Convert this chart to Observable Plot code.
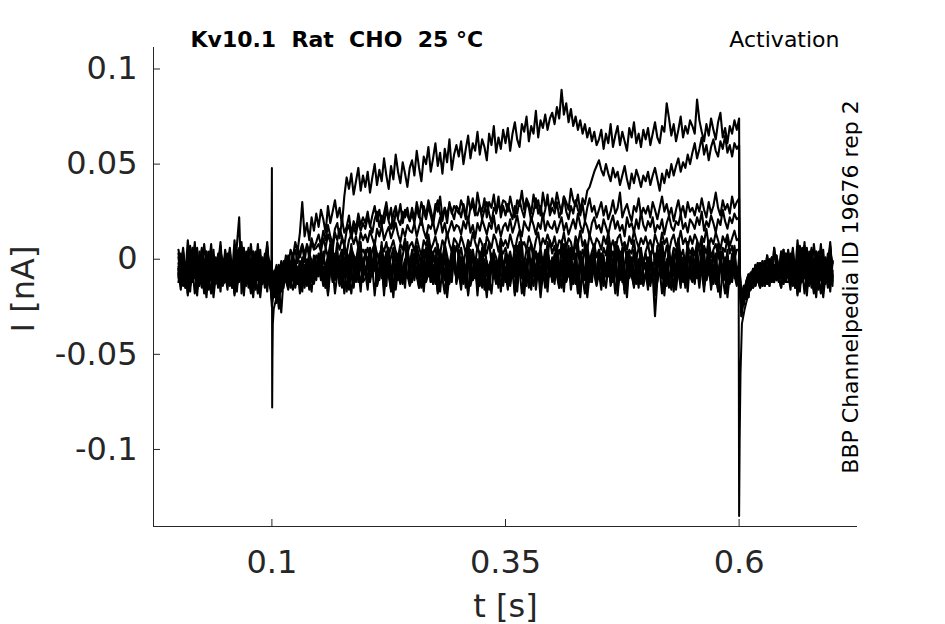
<!DOCTYPE html>
<html><head><meta charset="utf-8">
<script src="https://cdn.jsdelivr.net/npm/d3@7"></script>
<script src="https://cdn.jsdelivr.net/npm/@observablehq/plot@0.6"></script>
<style>html,body{margin:0;padding:0;background:#fff;overflow:hidden}svg{display:block}</style>
</head><body><div id="chart"></div>
<script>
// sample times (s)
const time = [
0,.0025,.005,.0075,.01,.0125,.015,.0175,.02,.0225,.025,.0275,.03,.0325,.035,.0375,.04,.0425,.045,.0475,
.05,.0525,.055,.0575,.06,.0625,.065,.0675,.07,.0725,.075,.0775,.08,.0825,.085,.0875,.09,.0925,.095,.0975,
.1,.1025,.105,.1075,.11,.1125,.115,.1175,.12,.1225,.125,.1275,.13,.1325,.135,.1375,.14,.1425,.145,.1475,
.15,.1525,.155,.1575,.16,.1625,.165,.1675,.17,.1725,.175,.1775,.18,.1825,.185,.1875,.19,.1925,.195,.1975,
.2,.2025,.205,.2075,.21,.2125,.215,.2175,.22,.2225,.225,.2275,.23,.2325,.235,.2375,.24,.2425,.245,.2475,
.25,.2525,.255,.2575,.26,.2625,.265,.2675,.27,.2725,.275,.2775,.28,.2825,.285,.2875,.29,.2925,.295,.2975,
.3,.3025,.305,.3075,.31,.3125,.315,.3175,.32,.3225,.325,.3275,.33,.3325,.335,.3375,.34,.3425,.345,.3475,
.35,.3525,.355,.3575,.36,.3625,.365,.3675,.37,.3725,.375,.3775,.38,.3825,.385,.3875,.39,.3925,.395,.3975,
.4,.4025,.405,.4075,.41,.4125,.415,.4175,.42,.4225,.425,.4275,.43,.4325,.435,.4375,.44,.4425,.445,.4475,
.45,.4525,.455,.4575,.46,.4625,.465,.4675,.47,.4725,.475,.4775,.48,.4825,.485,.4875,.49,.4925,.495,.4975,
.5,.5025,.505,.5075,.51,.5125,.515,.5175,.52,.5225,.525,.5275,.53,.5325,.535,.5375,.54,.5425,.545,.5475,
.55,.5525,.555,.5575,.56,.5625,.565,.5675,.57,.5725,.575,.5775,.58,.5825,.585,.5875,.59,.5925,.595,.5975,
.6,.6005,
.6025,.605,.6075,.61,.6125,.615,.6175,.62,.6225,.625,.6275,.63,.6325,.635,.6375,.64,.6425,.645,.6475,.65,
.6525,.655,.6575,.66,.6625,.665,.6675,.67,.6725,.675,.6775,.68,.6825,.685,.6875,.69,.6925,.695,.6975,.7];

const b1 = [-2,-11,4,-7,-15,-3,6,-9,-1,-13,2,-6,-17,-4,8,-8,-12,0,-5,-10];
const b2 = [-8,1,-12,-4,-19,-6,3,-10,-2,-14,5,-7,-1,-16,-5,2,-11,-3,9,-9];
const b3 = [3,-6,-14,-2,-9,7,-5,-18,-8,0,-12,-3,4,-10,-6,-15,1,-7,-13,-1];
const b3spike = [3,-6,-14,-2,-9,7,22,-18,-8,0,-12,-3,4,-10,-6,-15,1,-7,-13,-1];
const b4 = [-5,-13,0,-8,10,-4,-11,-1,-16,-6,3,-9,-20,-3,-7,5,-12,-2,-8,-14];
const b5 = [-10,-3,6,-7,-1,-14,-5,2,-12,-8,-2,-17,4,-6,-11,0,-9,-4,7,-13];
const b6 = [1,-9,-4,-15,-2,5,-11,-7,0,-13,-6,8,-3,-10,-18,-5,-1,-12,2,-8];
const b7 = [-7,-16,-2,-9,3,-12,-5,-1,-19,-4,6,-8,-14,-3,0,-10,-6,-15,4,-2];
const b8 = [-12,-4,1,-10,-6,-17,-2,7,-9,-3,-13,-7,0,-11,-5,-20,-8,3,-4,-9];
const b9 = [5,-3,-10,-6,2,-14,-8,-1,-12,4,-5,-16,-2,-9,1,-7,-13,-4,6,-11];
const b10 = [-9,-1,-13,-5,-18,-3,5,-10,-7,-2,-15,0,-8,-12,3,-6,-11,-4,-17,-1];
const b11 = [-4,-12,2,-8,-1,-11,-6,9,-14,-3,-9,-16,-2,4,-7,-13,-5,0,-10,-6];
const b11dip = [-4,-12,2,-8,-30,-11,-6,9,-14,-3,-9,-16,-2,4,-7,-13,-5,0,-10,-6];
const b12 = [-6,3,-9,-15,-4,-1,-12,-7,6,-11,-3,-18,-5,1,-9,-14,-2,-8,5,-12];
// just after the step onset (0.1-0.15 s)
const s1 = [-18,-12,-20,-9,-14,-6,-11,-16,-4,-10,-7,-13,-2,-9,-15,-5,-1,-11,-8,-3];
const s2 = [-22,-9,-15,-26,-8,-12,-4,-10,-14,-6,-1,-12,-8,-17,-3,-7,-11,0,-9,-5];
const s3 = [-14,-20,-8,-13,-17,-5,-10,-2,-15,-7,-12,-4,-9,1,-13,-6,-16,-3,-8,-11];
const s4 = [-25,-15,-11,-18,-6,-13,-9,-3,-12,-16,-5,-10,-1,-14,-7,-4,-11,-17,-2,-8];
const s5 = [-17,-10,-23,-12,-7,-15,-4,-11,-8,-2,-14,-6,-18,-3,-9,-12,0,-7,-13,-5];
const s6 = [-20,-13,-9,-16,-28,-10,-5,-12,-3,-9,-15,-7,-11,-1,-8,-14,-4,-10,2,-6];
// just after the step offset (0.6-0.65 s)
const p1 = [-26,-20,-17,-12,-15,-9,-12,-6,-10,-3,-8,-12,-4,1,-7,-11,-2,-9,-5,3];
const p2 = [-22,-15,-19,-10,-13,-6,-14,-8,-2,-11,-5,-13,0,-7,-10,-3,-8,4,-6,-12];
const p3 = [-30,-18,-14,-20,-9,-13,-5,-11,-15,-4,-9,2,-7,-12,-3,-10,-6,-1,-13,-4];
const p4 = [-19,-24,-12,-8,-16,-10,-3,-12,-7,-14,-1,-9,-5,-11,6,-4,-10,-15,-2,-7];
const p5 = [-24,-14,-21,-11,-7,-15,-9,-2,-13,-6,-10,-4,-14,0,-8,-3,-12,-7,5,-9];
const p6 = [-28,-20,-12,-17,-10,-5,-13,-8,-11,-1,-14,-6,-3,-9,-12,2,-5,-10,-7,-4];

// activating traces during the step (0.1-0.5975 s), pA
const step1 = [
-14,-8,-3,-10,-1,-6,2,-4,5,1,9,4,14,30,12,19,10,22,15,24,
17,26,21,14,28,19,25,31,22,27,18,33,43,37,45,34,41,48,36,44,
38,46,35,43,50,39,47,41,53,44,37,49,42,55,46,40,51,45,38,48,
52,44,57,48,41,54,50,59,46,53,61,49,56,45,58,51,63,47,55,60,
54,62,50,58,65,53,61,57,67,55,63,59,52,66,60,70,56,64,58,68,
61,69,57,66,72,63,59,71,67,75,62,70,66,78,64,73,69,76,68,74,
77,71,80,74,89,76,82,72,79,70,75,68,73,66,71,64,69,62,67,60,
63,68,58,66,61,71,59,65,70,60,67,62,57,69,64,72,61,66,59,68,
63,69,60,66,72,64,61,70,67,82,74,65,71,62,68,75,64,70,66,73,
70,66,84,73,67,62,71,65,74,68,63,72,77,64,69,61,70,66,73,68];
const step2 = [
-16,-9,-5,-12,-3,-7,0,-6,-2,3,-4,5,1,7,-1,8,4,11,6,9,
13,7,15,10,18,12,8,16,19,11,21,14,17,23,13,20,16,24,18,22,
19,25,17,23,28,20,26,18,24,30,21,27,16,25,22,29,19,26,23,20,
27,21,30,24,18,28,23,31,26,20,29,25,33,22,27,19,30,24,28,26,
24,31,27,21,33,26,29,23,35,28,25,32,22,30,27,34,24,29,26,31,
30,25,33,27,22,31,28,36,26,32,29,24,34,27,31,23,35,28,30,26,
32,27,35,29,24,33,30,26,37,31,28,34,25,32,29,36,38,42,46,49,
52,47,44,50,45,41,48,43,46,39,44,49,42,37,45,40,47,43,38,44,
41,46,39,44,48,42,36,45,40,47,43,50,44,49,53,46,51,48,55,50,
56,61,53,58,64,55,60,52,59,63,57,54,62,58,65,56,60,54,61,58];
const step3 = [
-12,-6,-10,-3,-8,-1,-5,2,-4,1,5,-2,4,8,3,7,1,9,5,6,
8,4,11,6,13,9,5,14,10,16,12,7,15,18,11,17,13,20,15,19,
16,22,18,14,21,25,17,23,19,26,20,16,24,28,21,18,25,22,27,20,
24,19,27,22,30,25,21,28,23,18,26,31,24,20,27,23,29,25,21,28,
26,22,29,24,20,27,32,25,23,28,21,26,30,24,19,27,25,33,22,28,
23,29,25,21,28,24,31,26,22,30,27,20,25,32,24,28,21,26,34,23,
27,24,30,22,26,33,25,21,28,24,31,26,23,29,20,27,32,25,28,22,
26,30,23,28,21,25,31,24,27,35,22,26,29,24,20,28,25,32,23,27,
24,28,22,30,26,21,27,33,25,29,23,27,20,26,31,24,28,22,30,25,
27,23,29,25,32,26,22,30,24,28,35,27,23,31,26,29,24,33,27,30];
const step4 = [
-9,-14,-6,-11,-3,-8,-12,-4,-7,0,-5,-9,-2,-6,1,-4,3,-1,-5,2,
0,4,-2,6,1,8,3,-1,9,5,11,7,3,10,13,8,12,6,14,10,
13,9,15,11,7,16,12,18,10,14,17,11,15,19,13,9,16,12,18,15,
14,19,12,17,21,15,11,18,16,20,13,17,22,14,19,12,16,20,15,18,
17,13,20,16,22,14,18,11,19,15,21,17,13,19,16,23,14,18,12,17,
19,15,21,14,18,23,16,12,20,17,15,22,18,13,19,16,24,15,20,17,
16,20,14,18,22,15,19,13,17,21,16,24,18,14,20,17,12,19,22,16,
18,14,21,17,13,19,23,16,20,15,18,12,22,17,19,14,21,16,25,18,
15,20,17,22,14,18,16,21,13,19,23,17,15,20,18,24,16,19,14,21,
19,16,22,18,25,15,20,17,23,19,14,21,18,26,20,16,22,19,24,21];
const step5 = [
-17,-8,-13,-5,-10,-2,-7,-12,-4,-9,-1,-6,-11,-3,-8,0,-5,-10,-2,-6,
-3,-7,0,-4,2,-5,-1,3,-3,1,5,-2,4,0,6,2,-1,7,3,5,
2,6,-1,5,8,3,0,7,4,9,2,6,10,4,1,8,5,11,3,7,
9,4,11,6,2,10,7,13,5,8,12,6,3,10,7,14,8,4,11,9,
6,12,8,3,10,7,14,9,5,11,8,2,12,9,6,13,10,4,11,7,
10,6,13,8,4,11,15,7,9,5,12,8,3,10,14,6,11,8,13,9,
7,12,5,10,8,14,6,11,9,3,12,8,15,7,10,5,13,9,6,11,
9,5,12,8,14,6,10,4,11,13,7,9,5,12,8,15,10,6,11,8,
12,7,10,5,13,9,6,14,8,11,4,10,13,7,9,15,8,11,6,12,
8,13,10,6,12,9,16,7,11,8,14,10,5,12,9,13,7,11,15,10];
const step6 = [
-20,-11,-16,-7,-13,-4,-9,-15,-6,-11,-2,-8,-13,-5,-10,-1,-7,-12,-4,-9,
-6,-1,-9,-3,-7,0,-5,-11,-2,-6,1,-4,-8,-1,3,-5,-2,4,-3,0,
2,-3,5,-1,-6,3,0,7,-2,4,-4,1,6,-1,3,-5,2,8,0,-2,
4,-1,7,2,-4,5,1,9,-2,3,6,-3,4,0,8,2,-4,5,1,7,
1,6,-2,4,8,0,5,-3,7,2,-1,6,3,9,-2,4,1,-4,5,3,
6,0,4,-3,7,2,9,1,-2,5,3,8,-1,4,0,6,-3,5,2,10,
3,7,-1,5,1,8,-2,4,6,0,9,3,-2,5,2,7,-1,4,8,1,
5,-2,6,2,9,0,4,-3,7,3,1,8,-1,5,3,10,0,6,2,-2,
4,8,1,6,-2,5,3,9,0,7,2,-1,6,4,11,1,5,-3,7,3,
6,2,9,4,-1,7,3,10,1,5,8,2,-2,6,4,11,3,7,0,5];

// full sweeps: pre-step, step, value at 0.6 s and just after, post-step
const trace1 = [...b3, ...b6, ...step1, 74, -10, ...p4, ...b9];
const trace2 = [...b5, ...b8, ...step2, 60, -8, ...p5, ...b2];
const trace3 = [...b2, ...b9, ...step3, 32, -5, ...p6, ...b11];
const trace4 = [...b7, ...b1, ...step4, 22, -6, ...p2, ...b6];
const trace5 = [...b10, ...b4, ...step5, 11, -4, ...p3, ...b7];
const trace6 = [...b11, ...b12, ...step6, 5, -3, ...p1, ...b4];
const trace7 = [...b1, ...b2, ...s1, ...b3, ...b4, ...b5, ...b6, ...b7, ...b8, ...b9, ...b10, ...b11, -3, -12, ...p1, ...b12];
const trace8 = [...b4, ...b7, ...s2, ...b1, ...b9, ...b12, ...b2, ...b10, ...b5, ...b3, ...b11dip, ...b6, -6, -14, ...p2, ...b8];
const trace9 = [...b9, ...b3spike, ...s3, ...b6, ...b2, ...b8, ...b4, ...b11, ...b1, ...b12, ...b7, ...b5, 1, -1, ...p3, ...b10];
const trace10 = [...b6, ...b11, ...s4, ...b10, ...b7, ...b1, ...b9, ...b3, ...b12, ...b4, ...b2, ...b8, -9, -16, ...p4, ...b1];
const trace11 = [...b12, ...b5, ...s5, ...b2, ...b11, ...b6, ...b10, ...b8, ...b4, ...b7, ...b3, ...b9, -4, -10, ...p5, ...b3];
const trace12 = [...b8, ...b10, ...s6, ...b12, ...b5, ...b9, ...b7, ...b2, ...b6, ...b11, ...b1, ...b4, -7, -13, ...p6, ...b5];

// capacitive transients at step on / off (times in s, current in pA)
const onsetTime = [0.0995, 0.1, 0.1003, 0.1006, 0.101, 0.102, 0.104, 0.107, 0.11];
const onsetI    = [-3, 48, -78, -52, -34, -26, -22, -16, -9];
const offsetTime = [0.5995, 0.6, 0.6006, 0.6015, 0.603, 0.606, 0.61, 0.615];
const offsetI    = [-4, -135, -95, -60, -34, -26, -18, -12];

const xTicks = [0.1, 0.35, 0.6];
const yTicks = [-0.1, -0.05, 0, 0.05, 0.1];
const xDomain = [-0.0267, 0.7267];
const yDomain = [-0.1405, 0.1113];

const traces = [trace1, trace2, trace3, trace4, trace5, trace6, trace7, trace8, trace9, trace10, trace11, trace12];
const rows = traces.flatMap((vals, k) => vals.map((v, i) => ({t: time[i], I: v / 1000, k})));
const transients = [[onsetTime, onsetI], [offsetTime, offsetI]]
  .flatMap(([ts, vs], j) => ts.map((t, i) => ({t, I: vs[i] / 1000, k: "s" + j})));
const bad = traces.map((v, k) => v.length === time.length ? null : `trace${k + 1}:${v.length}/${time.length}`).filter(Boolean);

const ink = "#262626";
const chart = Plot.plot({
  width: 945, height: 624,
  marginLeft: 153, marginRight: 88, marginTop: 47, marginBottom: 98,
  style: {fontFamily: "'DejaVu Sans', sans-serif", background: "#fff", color: ink, overflow: "visible"},
  x: {domain: xDomain},
  y: {domain: yDomain},
  marks: [
    Plot.line(rows, {x: "t", y: "I", z: "k", stroke: "#000", strokeWidth: 2.1, strokeLinejoin: "round"}),
    Plot.line(transients, {x: "t", y: "I", z: "k", stroke: "#000", strokeWidth: 2, strokeLinejoin: "round"}),
    Plot.ruleX([xDomain[0]], {stroke: ink, strokeWidth: 1}),
    Plot.ruleY([yDomain[0]], {stroke: ink, strokeWidth: 1}),
    Plot.tickX(xTicks, {x: d => d, stroke: ink, insetTop: 472}),
    Plot.tickY(yTicks, {y: d => d, stroke: ink, insetRight: 697}),
    Plot.axisX({ticks: xTicks, tickSize: 0, tickPadding: 24, tickFormat: d => String(d), fontSize: 32, color: ink, label: null}),
    Plot.axisY({ticks: yTicks, tickSize: 0, tickPadding: 16, tickFormat: d => String(d), fontSize: 32, color: ink, label: null}),
    Plot.text(["t [s]"], {text: d => d, frameAnchor: "bottom", dy: 90, lineAnchor: "bottom", textAnchor: "middle", fontSize: 32, fill: ink}),
    Plot.text(["I [nA]"], {text: d => d, frameAnchor: "left", dx: -120, dy: 2, rotate: -90, lineAnchor: "bottom", textAnchor: "middle", fontSize: 32, fill: ink}),
    Plot.text(["Kv10.1\u00a0 Rat\u00a0 CHO\u00a0 25 °C"], {text: d => d, frameAnchor: "top-left", dx: 37, dy: -1, lineAnchor: "bottom", textAnchor: "start", fontSize: 22, fontWeight: "bold", fill: "#000"}),
    Plot.text(["Activation"], {text: d => d, frameAnchor: "top-right", dx: -18, dy: -1, lineAnchor: "bottom", textAnchor: "end", fontSize: 22, fill: "#000"}),
    Plot.text(["BBP Channelpedia ID 19676 rep 2"], {text: d => d, frameAnchor: "right", dx: 0, rotate: -90, lineAnchor: "bottom", textAnchor: "middle", fontSize: 22, fill: "#000"}),
    Plot.text(bad.length ? [bad.join(" ")] : [], {text: d => d, frameAnchor: "top", fill: "red", fontSize: 14})
  ]
});
document.getElementById("chart").appendChild(chart);
</script>
</body></html>
